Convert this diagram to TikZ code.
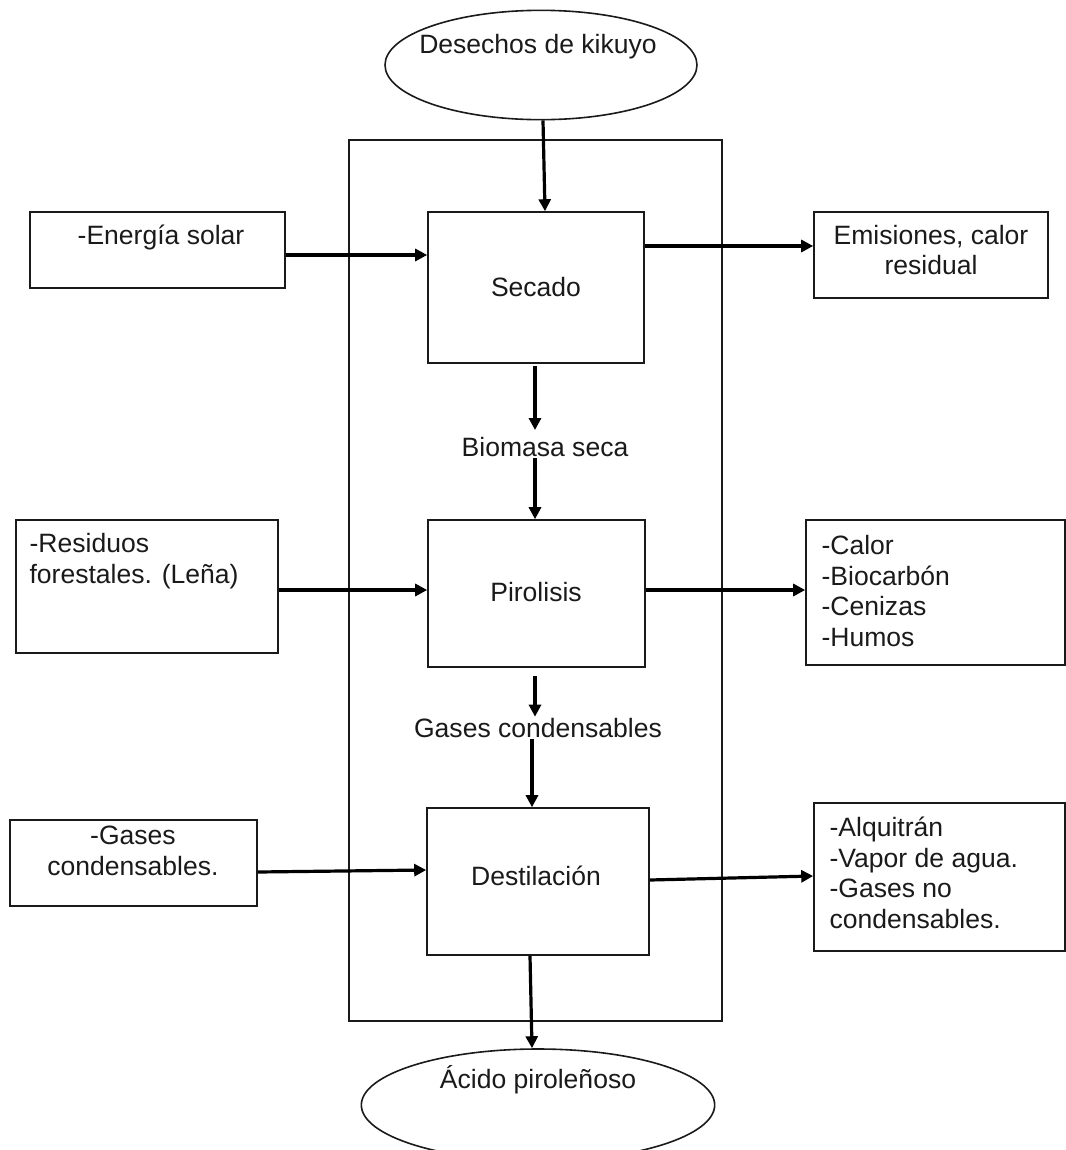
\documentclass[tikz,border=0pt]{standalone}
\usepackage{fontspec}
\setmainfont{Liberation Sans}
\usetikzlibrary{arrows.meta,fit,shapes.geometric}
\definecolor{ink}{HTML}{1A1A1A}
\begin{document}
\begin{tikzpicture}[x=0.75pt,y=-0.75pt,
  box/.style={draw=ink,line width=1.2pt,inner sep=0pt,rectangle},
  oval/.style={draw=ink,line width=1.2pt,ellipse,inner sep=0pt},
  txt/.style={text=ink,inner sep=1pt,font=\fontsize{19.9pt}{23pt}\selectfont},
  arr/.style={draw=black,line width=2.4pt,-{Triangle[length=9pt,width=9pt]}}]
\useasboundingbox (0,0) rectangle (1065,1150);
% frame
\node[box,fit={(349,140) (722,1021)}] (frame) {};
% ellipses
\node[oval,minimum width=234pt,minimum height=82pt] (top) at (541,65) {};
\node[txt] (toptxt) at (538,47) {Desechos de kikuyo};
\node[oval,minimum width=265pt,minimum height=84pt] (bot) at (538,1105) {};
\node[txt] (bottxt) at (538,1080) {Ácido piroleñoso};
% central boxes
\node[box,fill=white,fit={(428,212) (644,363)}] (sec) {};
\node[txt] at (536,287) {Secado};
\node[box,fill=white,fit={(428,520) (645,667)}] (pir) {};
\node[txt] at (536,592) {Pirolisis};
\node[box,fill=white,fit={(427,808) (649,955)}] (des) {};
\node[txt] at (536,876) {Destilación};
% left boxes
\node[box,fit={(30,212) (285,288)}] (ener) {};
\node[txt] at (161,237) {-Energía solar};
\node[box,fit={(16,520) (278,653)}] (resi) {};
\node[txt,anchor=west,align=left] at (28,561) {-Residuos\\forestales. (Leña)};
\node[box,fit={(10,820) (257,906)}] (gasin) {};
\node[txt,align=center] at (133,851) {-Gases\\condensables.};
% right boxes
\node[box,fit={(814,212) (1048,298)}] (emi) {};
\node[txt,align=center] at (931,250) {Emisiones, calor\\residual};
\node[box,fit={(806,520) (1065,665)}] (cal) {};
\node[txt,anchor=west,align=left] at (820,591) {-Calor\\-Biocarbón\\-Cenizas\\-Humos};
\node[box,fit={(814,803) (1065,951)}] (alq) {};
\node[txt,anchor=west,align=left] at (828,873) {-Alquitrán\\-Vapor de agua.\\-Gases no\\condensables.};
% intermediate labels
\node[txt,fill=white] (bio) at (545,447) {Biomasa seca};
\node[txt,fill=white] (gcl) at (538,728) {Gases condensables};
% arrows
\draw[arr] (top.south -| 543,0) -- (sec.north -| 545,0);
\draw[arr] (ener.east |- 0,255) -- (sec.west |- 0,255);
\draw[arr] (sec.east |- 0,246) -- (emi.west |- 0,246);
\draw[arr] (sec.south -| 535,0) ++(0,2) -- (535,430);
\draw[arr] (bio.south -| 535,0) -- (pir.north -| 535,0);
\draw[arr] (resi.east |- 0,590) -- (pir.west |- 0,590);
\draw[arr] (pir.east |- 0,590) -- (cal.west |- 0,590);
\draw[arr] (pir.south -| 535,0) ++(0,8) -- (gcl.north -| 535,0);
\draw[arr] (gcl.south -| 532,0) -- (des.north -| 532,0);
\draw[arr] (gasin.east |- 0,872) -- (des.west |- 0,870);
\draw[arr] (des.east |- 0,880) -- (alq.west |- 0,876);
\draw[arr] (des.south -| 530,0) -- (bot.north -| 532,0);
\end{tikzpicture}
\end{document}
